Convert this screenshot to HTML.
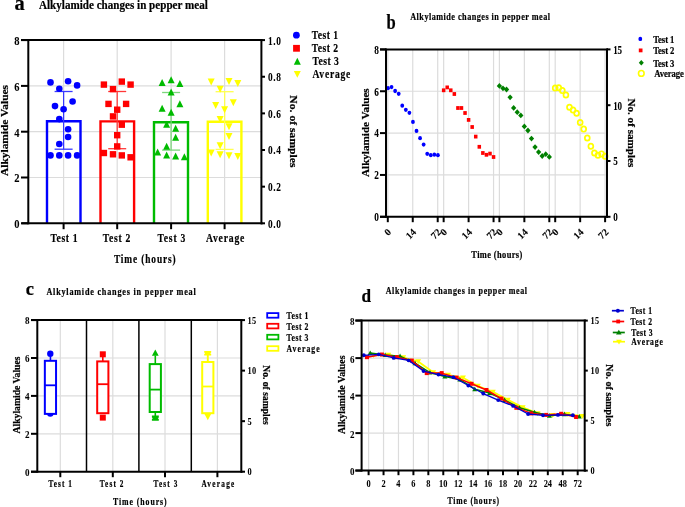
<!DOCTYPE html>
<html><head><meta charset="utf-8"><style>
html,body{margin:0;padding:0;background:#fff;overflow:hidden;width:685px;height:507px;}
svg{display:block;will-change:transform;}
text{font-family:"Liberation Serif",serif;font-weight:bold;stroke:#000;stroke-width:0.2px;}
</style></head><body>
<svg width="685" height="507" viewBox="0 0 685 507">
<rect width="685" height="507" fill="#fff"/>
<line x1="28.30" y1="177.50" x2="261.40" y2="177.50" stroke="#dcdcdc" stroke-width="1.2" />
<line x1="28.30" y1="131.70" x2="261.40" y2="131.70" stroke="#dcdcdc" stroke-width="1.2" />
<line x1="28.30" y1="85.90" x2="261.40" y2="85.90" stroke="#dcdcdc" stroke-width="1.2" />
<line x1="63.60" y1="40.10" x2="63.60" y2="223.30" stroke="#dcdcdc" stroke-width="1.2" />
<line x1="117.20" y1="40.10" x2="117.20" y2="223.30" stroke="#dcdcdc" stroke-width="1.2" />
<line x1="171.10" y1="40.10" x2="171.10" y2="223.30" stroke="#dcdcdc" stroke-width="1.2" />
<line x1="224.60" y1="40.10" x2="224.60" y2="223.30" stroke="#dcdcdc" stroke-width="1.2" />
<polyline points="47.00,223.30 47.00,121.30 80.50,121.30 80.50,223.30" fill="none" stroke="#0000ff" stroke-width="2.4"/>
<polyline points="100.50,223.30 100.50,121.40 134.10,121.40 134.10,223.30" fill="none" stroke="#ff0000" stroke-width="2.4"/>
<polyline points="154.00,223.30 154.00,122.30 188.00,122.30 188.00,223.30" fill="none" stroke="#00bb00" stroke-width="2.4"/>
<polyline points="207.80,223.30 207.80,121.80 241.40,121.80 241.40,223.30" fill="none" stroke="#ffff00" stroke-width="2.4"/>
<line x1="63.60" y1="91.50" x2="63.60" y2="149.20" stroke="#3838ff" stroke-width="1.25" />
<line x1="54.60" y1="91.50" x2="72.60" y2="91.50" stroke="#3838ff" stroke-width="1.3" />
<line x1="54.60" y1="149.20" x2="72.60" y2="149.20" stroke="#3838ff" stroke-width="1.3" />
<line x1="117.20" y1="91.50" x2="117.20" y2="148.70" stroke="#ff3838" stroke-width="1.25" />
<line x1="108.20" y1="91.50" x2="126.20" y2="91.50" stroke="#ff3838" stroke-width="1.3" />
<line x1="108.20" y1="148.70" x2="126.20" y2="148.70" stroke="#ff3838" stroke-width="1.3" />
<line x1="171.10" y1="92.50" x2="171.10" y2="150.10" stroke="#7cd67c" stroke-width="1.25" />
<line x1="162.10" y1="92.50" x2="180.10" y2="92.50" stroke="#7cd67c" stroke-width="1.3" />
<line x1="162.10" y1="150.10" x2="180.10" y2="150.10" stroke="#7cd67c" stroke-width="1.3" />
<line x1="224.60" y1="91.70" x2="224.60" y2="149.40" stroke="#ffff50" stroke-width="1.25" />
<line x1="215.60" y1="91.70" x2="233.60" y2="91.70" stroke="#ffff50" stroke-width="1.3" />
<line x1="215.60" y1="149.40" x2="233.60" y2="149.40" stroke="#ffff50" stroke-width="1.3" />
<circle cx="50.50" cy="82.40" r="3.3" fill="#0000ff"/>
<circle cx="68.10" cy="81.20" r="3.3" fill="#0000ff"/>
<circle cx="77.10" cy="85.40" r="3.3" fill="#0000ff"/>
<circle cx="59.30" cy="88.70" r="3.3" fill="#0000ff"/>
<circle cx="72.60" cy="101.50" r="3.3" fill="#0000ff"/>
<circle cx="55.00" cy="106.10" r="3.3" fill="#0000ff"/>
<circle cx="63.60" cy="109.30" r="3.3" fill="#0000ff"/>
<circle cx="59.30" cy="119.10" r="3.3" fill="#0000ff"/>
<circle cx="68.10" cy="129.20" r="3.3" fill="#0000ff"/>
<circle cx="68.10" cy="137.00" r="3.3" fill="#0000ff"/>
<circle cx="59.30" cy="144.00" r="3.3" fill="#0000ff"/>
<circle cx="50.50" cy="155.40" r="3.3" fill="#0000ff"/>
<circle cx="59.30" cy="155.40" r="3.3" fill="#0000ff"/>
<circle cx="68.10" cy="155.40" r="3.3" fill="#0000ff"/>
<circle cx="77.10" cy="155.40" r="3.3" fill="#0000ff"/>
<rect x="100.70" y="81.40" width="6.4" height="6.4" fill="#ff0000"/>
<rect x="118.60" y="78.40" width="6.4" height="6.4" fill="#ff0000"/>
<rect x="127.40" y="81.40" width="6.4" height="6.4" fill="#ff0000"/>
<rect x="109.80" y="85.90" width="6.4" height="6.4" fill="#ff0000"/>
<rect x="105.30" y="100.70" width="6.4" height="6.4" fill="#ff0000"/>
<rect x="122.90" y="100.70" width="6.4" height="6.4" fill="#ff0000"/>
<rect x="114.00" y="106.50" width="6.4" height="6.4" fill="#ff0000"/>
<rect x="109.80" y="113.20" width="6.4" height="6.4" fill="#ff0000"/>
<rect x="118.60" y="121.50" width="6.4" height="6.4" fill="#ff0000"/>
<rect x="114.00" y="132.00" width="6.4" height="6.4" fill="#ff0000"/>
<rect x="114.00" y="143.20" width="6.4" height="6.4" fill="#ff0000"/>
<rect x="100.70" y="149.80" width="6.4" height="6.4" fill="#ff0000"/>
<rect x="109.80" y="151.10" width="6.4" height="6.4" fill="#ff0000"/>
<rect x="118.60" y="152.20" width="6.4" height="6.4" fill="#ff0000"/>
<rect x="127.40" y="154.10" width="6.4" height="6.4" fill="#ff0000"/>
<polygon points="162.10,79.10 165.60,86.10 158.60,86.10" fill="#00bb00"/>
<polygon points="171.10,76.30 174.60,83.30 167.60,83.30" fill="#00bb00"/>
<polygon points="179.90,80.00 183.40,87.00 176.40,87.00" fill="#00bb00"/>
<polygon points="171.10,88.50 174.60,95.50 167.60,95.50" fill="#00bb00"/>
<polygon points="179.90,100.30 183.40,107.30 176.40,107.30" fill="#00bb00"/>
<polygon points="162.10,104.80 165.60,111.80 158.60,111.80" fill="#00bb00"/>
<polygon points="171.10,108.70 174.60,115.70 167.60,115.70" fill="#00bb00"/>
<polygon points="166.60,120.70 170.10,127.70 163.10,127.70" fill="#00bb00"/>
<polygon points="175.60,124.80 179.10,131.80 172.10,131.80" fill="#00bb00"/>
<polygon points="175.60,133.80 179.10,140.80 172.10,140.80" fill="#00bb00"/>
<polygon points="166.60,142.80 170.10,149.80 163.10,149.80" fill="#00bb00"/>
<polygon points="157.60,148.40 161.10,155.40 154.10,155.40" fill="#00bb00"/>
<polygon points="166.60,151.60 170.10,158.60 163.10,158.60" fill="#00bb00"/>
<polygon points="175.60,152.50 179.10,159.50 172.10,159.50" fill="#00bb00"/>
<polygon points="184.40,153.30 187.90,160.30 180.90,160.30" fill="#00bb00"/>
<polygon points="207.70,78.60 214.70,78.60 211.20,85.60" fill="#ffff00"/>
<polygon points="225.50,77.90 232.50,77.90 229.00,84.90" fill="#ffff00"/>
<polygon points="234.30,80.10 241.30,80.10 237.80,87.10" fill="#ffff00"/>
<polygon points="216.60,85.70 223.60,85.70 220.10,92.70" fill="#ffff00"/>
<polygon points="229.80,99.20 236.80,99.20 233.30,106.20" fill="#ffff00"/>
<polygon points="212.20,102.00 219.20,102.00 215.70,109.00" fill="#ffff00"/>
<polygon points="221.10,106.30 228.10,106.30 224.60,113.30" fill="#ffff00"/>
<polygon points="216.60,116.10 223.60,116.10 220.10,123.10" fill="#ffff00"/>
<polygon points="225.50,123.20 232.50,123.20 229.00,130.20" fill="#ffff00"/>
<polygon points="225.50,132.90 232.50,132.90 229.00,139.90" fill="#ffff00"/>
<polygon points="216.60,142.30 223.60,142.30 220.10,149.30" fill="#ffff00"/>
<polygon points="207.70,149.40 214.70,149.40 211.20,156.40" fill="#ffff00"/>
<polygon points="216.60,151.30 223.60,151.30 220.10,158.30" fill="#ffff00"/>
<polygon points="225.50,152.20 232.50,152.20 229.00,159.20" fill="#ffff00"/>
<polygon points="234.30,153.10 241.30,153.10 237.80,160.10" fill="#ffff00"/>
<line x1="21.00" y1="40.10" x2="262.40" y2="40.10" stroke="#000" stroke-width="2" />
<line x1="21.50" y1="223.30" x2="262.40" y2="223.30" stroke="#000" stroke-width="2" />
<line x1="28.30" y1="39.10" x2="28.30" y2="224.30" stroke="#000" stroke-width="2" />
<line x1="261.40" y1="39.10" x2="261.40" y2="224.30" stroke="#000" stroke-width="2" />
<line x1="21.00" y1="223.30" x2="28.30" y2="223.30" stroke="#000" stroke-width="2" />
<text x="19.60" y="228.30" font-size="12.0" text-anchor="end" fill="#000" transform-origin="19.6 0" transform="scale(0.88,1)" style="stroke-width:0.05px">0</text>
<line x1="21.00" y1="177.50" x2="28.30" y2="177.50" stroke="#000" stroke-width="2" />
<text x="19.60" y="182.50" font-size="12.0" text-anchor="end" fill="#000" transform-origin="19.6 0" transform="scale(0.88,1)" style="stroke-width:0.05px">2</text>
<line x1="21.00" y1="131.70" x2="28.30" y2="131.70" stroke="#000" stroke-width="2" />
<text x="19.60" y="136.70" font-size="12.0" text-anchor="end" fill="#000" transform-origin="19.6 0" transform="scale(0.88,1)" style="stroke-width:0.05px">4</text>
<line x1="21.00" y1="85.90" x2="28.30" y2="85.90" stroke="#000" stroke-width="2" />
<text x="19.60" y="90.90" font-size="12.0" text-anchor="end" fill="#000" transform-origin="19.6 0" transform="scale(0.88,1)" style="stroke-width:0.05px">6</text>
<line x1="21.00" y1="40.10" x2="28.30" y2="40.10" stroke="#000" stroke-width="2" />
<text x="19.60" y="45.10" font-size="12.0" text-anchor="end" fill="#000" transform-origin="19.6 0" transform="scale(0.88,1)" style="stroke-width:0.05px">8</text>
<line x1="261.40" y1="223.30" x2="265.00" y2="223.30" stroke="#000" stroke-width="2" />
<text transform="translate(267.90,227.70) scale(0.78,1)" font-size="12.0" textLength="16.67" lengthAdjust="spacing" fill="#000"  style="stroke-width:0.05px">0.0</text>
<line x1="261.40" y1="186.66" x2="265.00" y2="186.66" stroke="#000" stroke-width="2" />
<text transform="translate(267.90,191.06) scale(0.78,1)" font-size="12.0" textLength="16.67" lengthAdjust="spacing" fill="#000"  style="stroke-width:0.05px">0.2</text>
<line x1="261.40" y1="150.02" x2="265.00" y2="150.02" stroke="#000" stroke-width="2" />
<text transform="translate(267.90,154.42) scale(0.78,1)" font-size="12.0" textLength="16.67" lengthAdjust="spacing" fill="#000"  style="stroke-width:0.05px">0.4</text>
<line x1="261.40" y1="113.38" x2="265.00" y2="113.38" stroke="#000" stroke-width="2" />
<text transform="translate(267.90,117.78) scale(0.78,1)" font-size="12.0" textLength="16.67" lengthAdjust="spacing" fill="#000"  style="stroke-width:0.05px">0.6</text>
<line x1="261.40" y1="76.74" x2="265.00" y2="76.74" stroke="#000" stroke-width="2" />
<text transform="translate(267.90,81.14) scale(0.78,1)" font-size="12.0" textLength="16.67" lengthAdjust="spacing" fill="#000"  style="stroke-width:0.05px">0.8</text>
<line x1="261.40" y1="40.10" x2="265.00" y2="40.10" stroke="#000" stroke-width="2" />
<text transform="translate(267.90,44.50) scale(0.78,1)" font-size="12.0" textLength="16.67" lengthAdjust="spacing" fill="#000"  style="stroke-width:0.05px">1.0</text>
<line x1="63.60" y1="223.30" x2="63.60" y2="229.20" stroke="#000" stroke-width="2" />
<line x1="117.20" y1="223.30" x2="117.20" y2="229.20" stroke="#000" stroke-width="2" />
<line x1="171.10" y1="223.30" x2="171.10" y2="229.20" stroke="#000" stroke-width="2" />
<line x1="224.60" y1="223.30" x2="224.60" y2="229.20" stroke="#000" stroke-width="2" />
<text transform="translate(50.40,241.70) scale(0.78,1)" font-size="12.4" textLength="34.87" lengthAdjust="spacing" fill="#000" >Test 1</text>
<text transform="translate(102.70,241.70) scale(0.78,1)" font-size="12.4" textLength="35.38" lengthAdjust="spacing" fill="#000" >Test 2</text>
<text transform="translate(157.50,241.70) scale(0.78,1)" font-size="12.4" textLength="35.77" lengthAdjust="spacing" fill="#000" >Test 3</text>
<text transform="translate(205.90,241.70) scale(0.78,1)" font-size="12.4" textLength="49.36" lengthAdjust="spacing" fill="#000" >Average</text>
<text transform="translate(113.90,263.10) scale(0.78,1)" font-size="12.0" textLength="79.23" lengthAdjust="spacing" fill="#000" >Time (hours)</text>
<text x="14.50" y="10.30" font-size="21" textLength="10.20" lengthAdjust="spacingAndGlyphs" fill="#000" >a</text>
<text transform="translate(39.00,8.90) scale(0.94,1)" font-size="11.8" textLength="179.57" lengthAdjust="spacing" fill="#000" >Alkylamide changes in pepper meal</text>
<text transform="translate(8.00,130.50) rotate(-90)" font-size="10.8" text-anchor="middle" textLength="91.00" lengthAdjust="spacingAndGlyphs" fill="#000">Alkylamide Values</text>
<text transform="translate(289.60,131.45) rotate(90)" font-size="10.8" text-anchor="middle" textLength="72.20" lengthAdjust="spacingAndGlyphs" fill="#000">No. of samples</text>
<circle cx="296.40" cy="35.20" r="3.4" fill="#0000ff"/>
<rect x="293.10" y="44.90" width="6.8" height="6.8" fill="#ff0000"/>
<polygon points="297.30,57.75 300.80,64.65 293.80,64.65" fill="#00bb00"/>
<polygon points="293.80,71.00 300.80,71.00 297.30,77.80" fill="#ffff00"/>
<text transform="translate(311.70,38.70) scale(0.78,1)" font-size="12.3" textLength="33.85" lengthAdjust="spacing" fill="#000" >Test 1</text>
<text transform="translate(311.70,51.50) scale(0.78,1)" font-size="12.3" textLength="33.85" lengthAdjust="spacing" fill="#000" >Test 2</text>
<text transform="translate(312.40,64.80) scale(0.78,1)" font-size="12.3" textLength="33.85" lengthAdjust="spacing" fill="#000" >Test 3</text>
<text transform="translate(312.40,78.20) scale(0.78,1)" font-size="12.3" textLength="48.59" lengthAdjust="spacing" fill="#000" >Average</text>
<line x1="386.00" y1="174.95" x2="607.00" y2="174.95" stroke="#dcdcdc" stroke-width="1.2" />
<line x1="386.00" y1="133.10" x2="607.00" y2="133.10" stroke="#dcdcdc" stroke-width="1.2" />
<line x1="386.00" y1="91.25" x2="607.00" y2="91.25" stroke="#dcdcdc" stroke-width="1.2" />
<line x1="387.80" y1="49.40" x2="387.80" y2="216.80" stroke="#dcdcdc" stroke-width="1.2" />
<line x1="412.75" y1="49.40" x2="412.75" y2="216.80" stroke="#dcdcdc" stroke-width="1.2" />
<line x1="437.71" y1="49.40" x2="437.71" y2="216.80" stroke="#dcdcdc" stroke-width="1.2" />
<line x1="443.65" y1="49.40" x2="443.65" y2="216.80" stroke="#dcdcdc" stroke-width="1.2" />
<line x1="468.60" y1="49.40" x2="468.60" y2="216.80" stroke="#dcdcdc" stroke-width="1.2" />
<line x1="493.56" y1="49.40" x2="493.56" y2="216.80" stroke="#dcdcdc" stroke-width="1.2" />
<line x1="499.40" y1="49.40" x2="499.40" y2="216.80" stroke="#dcdcdc" stroke-width="1.2" />
<line x1="524.36" y1="49.40" x2="524.36" y2="216.80" stroke="#dcdcdc" stroke-width="1.2" />
<line x1="549.31" y1="49.40" x2="549.31" y2="216.80" stroke="#dcdcdc" stroke-width="1.2" />
<line x1="555.20" y1="49.40" x2="555.20" y2="216.80" stroke="#dcdcdc" stroke-width="1.2" />
<line x1="580.16" y1="49.40" x2="580.16" y2="216.80" stroke="#dcdcdc" stroke-width="1.2" />
<line x1="605.11" y1="49.40" x2="605.11" y2="216.80" stroke="#dcdcdc" stroke-width="1.2" />
<ellipse cx="388.00" cy="88.20" rx="1.9" ry="2.15" fill="#0000ff"/>
<ellipse cx="391.56" cy="87.10" rx="1.9" ry="2.15" fill="#0000ff"/>
<ellipse cx="395.13" cy="91.00" rx="1.9" ry="2.15" fill="#0000ff"/>
<ellipse cx="398.69" cy="93.80" rx="1.9" ry="2.15" fill="#0000ff"/>
<ellipse cx="402.26" cy="105.70" rx="1.9" ry="2.15" fill="#0000ff"/>
<ellipse cx="405.82" cy="109.80" rx="1.9" ry="2.15" fill="#0000ff"/>
<ellipse cx="409.39" cy="112.80" rx="1.9" ry="2.15" fill="#0000ff"/>
<ellipse cx="412.95" cy="121.90" rx="1.9" ry="2.15" fill="#0000ff"/>
<ellipse cx="416.52" cy="130.90" rx="1.9" ry="2.15" fill="#0000ff"/>
<ellipse cx="420.08" cy="138.20" rx="1.9" ry="2.15" fill="#0000ff"/>
<ellipse cx="423.65" cy="144.60" rx="1.9" ry="2.15" fill="#0000ff"/>
<ellipse cx="427.21" cy="153.80" rx="1.9" ry="2.15" fill="#0000ff"/>
<ellipse cx="430.78" cy="155.20" rx="1.9" ry="2.15" fill="#0000ff"/>
<ellipse cx="434.34" cy="154.70" rx="1.9" ry="2.15" fill="#0000ff"/>
<ellipse cx="437.91" cy="155.20" rx="1.9" ry="2.15" fill="#0000ff"/>
<rect x="441.90" y="88.40" width="3.5" height="3.8" fill="#ff0000"/>
<rect x="445.46" y="85.50" width="3.5" height="3.8" fill="#ff0000"/>
<rect x="449.03" y="88.40" width="3.5" height="3.8" fill="#ff0000"/>
<rect x="452.59" y="92.10" width="3.5" height="3.8" fill="#ff0000"/>
<rect x="456.16" y="106.10" width="3.5" height="3.8" fill="#ff0000"/>
<rect x="459.72" y="106.10" width="3.5" height="3.8" fill="#ff0000"/>
<rect x="463.29" y="111.10" width="3.5" height="3.8" fill="#ff0000"/>
<rect x="466.85" y="118.00" width="3.5" height="3.8" fill="#ff0000"/>
<rect x="470.42" y="125.10" width="3.5" height="3.8" fill="#ff0000"/>
<rect x="473.98" y="134.70" width="3.5" height="3.8" fill="#ff0000"/>
<rect x="477.55" y="144.90" width="3.5" height="3.8" fill="#ff0000"/>
<rect x="481.11" y="151.10" width="3.5" height="3.8" fill="#ff0000"/>
<rect x="484.68" y="152.90" width="3.5" height="3.8" fill="#ff0000"/>
<rect x="488.25" y="151.70" width="3.5" height="3.8" fill="#ff0000"/>
<rect x="491.81" y="155.10" width="3.5" height="3.8" fill="#ff0000"/>
<polygon points="499.40,83.00 502.05,85.90 499.40,88.80 496.75,85.90" fill="#008000"/>
<polygon points="502.96,85.40 505.61,88.30 502.96,91.20 500.31,88.30" fill="#008000"/>
<polygon points="506.53,86.60 509.18,89.50 506.53,92.40 503.88,89.50" fill="#008000"/>
<polygon points="510.09,94.40 512.75,97.30 510.09,100.20 507.44,97.30" fill="#008000"/>
<polygon points="513.66,105.00 516.31,107.90 513.66,110.80 511.01,107.90" fill="#008000"/>
<polygon points="517.23,109.30 519.88,112.20 517.23,115.10 514.58,112.20" fill="#008000"/>
<polygon points="520.79,112.50 523.44,115.40 520.79,118.30 518.14,115.40" fill="#008000"/>
<polygon points="524.36,123.50 527.00,126.40 524.36,129.30 521.71,126.40" fill="#008000"/>
<polygon points="527.92,127.60 530.57,130.50 527.92,133.40 525.27,130.50" fill="#008000"/>
<polygon points="531.49,135.70 534.13,138.60 531.49,141.50 528.84,138.60" fill="#008000"/>
<polygon points="535.05,144.20 537.70,147.10 535.05,150.00 532.40,147.10" fill="#008000"/>
<polygon points="538.62,149.20 541.26,152.10 538.62,155.00 535.97,152.10" fill="#008000"/>
<polygon points="542.18,153.10 544.83,156.00 542.18,158.90 539.53,156.00" fill="#008000"/>
<polygon points="545.75,151.30 548.39,154.20 545.75,157.10 543.10,154.20" fill="#008000"/>
<polygon points="549.31,154.00 551.96,156.90 549.31,159.80 546.66,156.90" fill="#008000"/>
<ellipse cx="555.20" cy="88.10" rx="2.45" ry="2.65" fill="none" stroke="#ffff00" stroke-width="1.7"/>
<ellipse cx="558.77" cy="87.80" rx="2.45" ry="2.65" fill="none" stroke="#ffff00" stroke-width="1.7"/>
<ellipse cx="562.33" cy="90.60" rx="2.45" ry="2.65" fill="none" stroke="#ffff00" stroke-width="1.7"/>
<ellipse cx="565.90" cy="95.00" rx="2.45" ry="2.65" fill="none" stroke="#ffff00" stroke-width="1.7"/>
<ellipse cx="569.46" cy="107.30" rx="2.45" ry="2.65" fill="none" stroke="#ffff00" stroke-width="1.7"/>
<ellipse cx="573.03" cy="110.10" rx="2.45" ry="2.65" fill="none" stroke="#ffff00" stroke-width="1.7"/>
<ellipse cx="576.59" cy="113.30" rx="2.45" ry="2.65" fill="none" stroke="#ffff00" stroke-width="1.7"/>
<ellipse cx="580.16" cy="122.50" rx="2.45" ry="2.65" fill="none" stroke="#ffff00" stroke-width="1.7"/>
<ellipse cx="583.72" cy="129.10" rx="2.45" ry="2.65" fill="none" stroke="#ffff00" stroke-width="1.7"/>
<ellipse cx="587.29" cy="138.00" rx="2.45" ry="2.65" fill="none" stroke="#ffff00" stroke-width="1.7"/>
<ellipse cx="590.85" cy="146.30" rx="2.45" ry="2.65" fill="none" stroke="#ffff00" stroke-width="1.7"/>
<ellipse cx="594.42" cy="153.00" rx="2.45" ry="2.65" fill="none" stroke="#ffff00" stroke-width="1.7"/>
<ellipse cx="597.98" cy="155.20" rx="2.45" ry="2.65" fill="none" stroke="#ffff00" stroke-width="1.7"/>
<ellipse cx="601.55" cy="153.90" rx="2.45" ry="2.65" fill="none" stroke="#ffff00" stroke-width="1.7"/>
<ellipse cx="605.11" cy="156.20" rx="2.45" ry="2.65" fill="none" stroke="#ffff00" stroke-width="1.7"/>
<line x1="380.00" y1="49.40" x2="608.00" y2="49.40" stroke="#000" stroke-width="2" />
<line x1="380.00" y1="216.80" x2="608.00" y2="216.80" stroke="#000" stroke-width="2" />
<line x1="386.00" y1="48.40" x2="386.00" y2="217.80" stroke="#000" stroke-width="2" />
<line x1="607.00" y1="48.40" x2="607.00" y2="217.80" stroke="#000" stroke-width="2" />
<line x1="380.00" y1="216.80" x2="386.00" y2="216.80" stroke="#000" stroke-width="2" />
<text x="379.00" y="221.10" font-size="11.6" text-anchor="end" fill="#000" transform-origin="379.0 0" transform="scale(0.8,1)" style="stroke-width:0.05px">0</text>
<line x1="380.00" y1="174.95" x2="386.00" y2="174.95" stroke="#000" stroke-width="2" />
<text x="379.00" y="179.25" font-size="11.6" text-anchor="end" fill="#000" transform-origin="379.0 0" transform="scale(0.8,1)" style="stroke-width:0.05px">2</text>
<line x1="380.00" y1="133.10" x2="386.00" y2="133.10" stroke="#000" stroke-width="2" />
<text x="379.00" y="137.40" font-size="11.6" text-anchor="end" fill="#000" transform-origin="379.0 0" transform="scale(0.8,1)" style="stroke-width:0.05px">4</text>
<line x1="380.00" y1="91.25" x2="386.00" y2="91.25" stroke="#000" stroke-width="2" />
<text x="379.00" y="95.55" font-size="11.6" text-anchor="end" fill="#000" transform-origin="379.0 0" transform="scale(0.8,1)" style="stroke-width:0.05px">6</text>
<line x1="380.00" y1="49.40" x2="386.00" y2="49.40" stroke="#000" stroke-width="2" />
<text x="379.00" y="53.70" font-size="11.6" text-anchor="end" fill="#000" transform-origin="379.0 0" transform="scale(0.8,1)" style="stroke-width:0.05px">8</text>
<line x1="607.00" y1="216.80" x2="610.50" y2="216.80" stroke="#000" stroke-width="2" />
<text transform="translate(613.30,221.10) scale(0.78,1)" font-size="11.6" textLength="5.26" lengthAdjust="spacing" fill="#000"  style="stroke-width:0.05px">0</text>
<line x1="607.00" y1="161.00" x2="610.50" y2="161.00" stroke="#000" stroke-width="2" />
<text transform="translate(613.30,165.30) scale(0.78,1)" font-size="11.6" textLength="5.26" lengthAdjust="spacing" fill="#000"  style="stroke-width:0.05px">5</text>
<line x1="607.00" y1="105.20" x2="610.50" y2="105.20" stroke="#000" stroke-width="2" />
<text transform="translate(613.30,109.50) scale(0.78,1)" font-size="11.6" textLength="11.03" lengthAdjust="spacing" fill="#000"  style="stroke-width:0.05px">10</text>
<line x1="607.00" y1="49.40" x2="610.50" y2="49.40" stroke="#000" stroke-width="2" />
<text transform="translate(613.30,53.70) scale(0.78,1)" font-size="11.6" textLength="11.03" lengthAdjust="spacing" fill="#000"  style="stroke-width:0.05px">15</text>
<line x1="387.80" y1="216.80" x2="387.80" y2="222.20" stroke="#000" stroke-width="2" />
<text transform="translate(389.40,230.2) rotate(-45)" font-size="10" text-anchor="end" dominant-baseline="central" fill="#000" style="stroke-width:0.1px">0</text>
<line x1="412.75" y1="216.80" x2="412.75" y2="222.20" stroke="#000" stroke-width="2" />
<text transform="translate(414.36,230.2) rotate(-45)" font-size="10" text-anchor="end" dominant-baseline="central" fill="#000" style="stroke-width:0.1px">14</text>
<line x1="437.71" y1="216.80" x2="437.71" y2="222.20" stroke="#000" stroke-width="2" />
<text transform="translate(439.31,230.2) rotate(-45)" font-size="10" text-anchor="end" dominant-baseline="central" fill="#000" style="stroke-width:0.1px">72</text>
<line x1="443.65" y1="216.80" x2="443.65" y2="222.20" stroke="#000" stroke-width="2" />
<text transform="translate(445.25,230.2) rotate(-45)" font-size="10" text-anchor="end" dominant-baseline="central" fill="#000" style="stroke-width:0.1px">0</text>
<line x1="468.60" y1="216.80" x2="468.60" y2="222.20" stroke="#000" stroke-width="2" />
<text transform="translate(470.20,230.2) rotate(-45)" font-size="10" text-anchor="end" dominant-baseline="central" fill="#000" style="stroke-width:0.1px">14</text>
<line x1="493.56" y1="216.80" x2="493.56" y2="222.20" stroke="#000" stroke-width="2" />
<text transform="translate(495.16,230.2) rotate(-45)" font-size="10" text-anchor="end" dominant-baseline="central" fill="#000" style="stroke-width:0.1px">72</text>
<line x1="499.40" y1="216.80" x2="499.40" y2="222.20" stroke="#000" stroke-width="2" />
<text transform="translate(501.00,230.2) rotate(-45)" font-size="10" text-anchor="end" dominant-baseline="central" fill="#000" style="stroke-width:0.1px">0</text>
<line x1="524.36" y1="216.80" x2="524.36" y2="222.20" stroke="#000" stroke-width="2" />
<text transform="translate(525.96,230.2) rotate(-45)" font-size="10" text-anchor="end" dominant-baseline="central" fill="#000" style="stroke-width:0.1px">14</text>
<line x1="549.31" y1="216.80" x2="549.31" y2="222.20" stroke="#000" stroke-width="2" />
<text transform="translate(550.91,230.2) rotate(-45)" font-size="10" text-anchor="end" dominant-baseline="central" fill="#000" style="stroke-width:0.1px">72</text>
<line x1="555.20" y1="216.80" x2="555.20" y2="222.20" stroke="#000" stroke-width="2" />
<text transform="translate(556.80,230.2) rotate(-45)" font-size="10" text-anchor="end" dominant-baseline="central" fill="#000" style="stroke-width:0.1px">0</text>
<line x1="580.16" y1="216.80" x2="580.16" y2="222.20" stroke="#000" stroke-width="2" />
<text transform="translate(581.76,230.2) rotate(-45)" font-size="10" text-anchor="end" dominant-baseline="central" fill="#000" style="stroke-width:0.1px">14</text>
<line x1="605.11" y1="216.80" x2="605.11" y2="222.20" stroke="#000" stroke-width="2" />
<text transform="translate(606.71,230.2) rotate(-45)" font-size="10" text-anchor="end" dominant-baseline="central" fill="#000" style="stroke-width:0.1px">72</text>
<text transform="translate(471.30,258.20) scale(0.78,1)" font-size="10.8" textLength="65.38" lengthAdjust="spacing" fill="#000" >Time (hours)</text>
<text x="386.40" y="28.60" font-size="20.5" textLength="9.20" lengthAdjust="spacingAndGlyphs" fill="#000" >b</text>
<text transform="translate(410.20,20.10) scale(0.72,1)" font-size="11.4" textLength="194.17" lengthAdjust="spacing" fill="#000" >Alkylamide changes in pepper meal</text>
<text transform="translate(369.30,132.65) rotate(-90)" font-size="10.8" text-anchor="middle" textLength="88.70" lengthAdjust="spacingAndGlyphs" fill="#000">Alkylamide Values</text>
<text transform="translate(628.40,132.90) rotate(90)" font-size="10.8" text-anchor="middle" textLength="69.00" lengthAdjust="spacingAndGlyphs" fill="#000">No. of samples</text>
<ellipse cx="640.3" cy="38.9" rx="1.9" ry="2.2" fill="#0000ff"/>
<rect x="638.8" y="48.5" width="3.7" height="3.8" fill="#ff0000"/>
<polygon points="641.30,60.00 643.80,62.80 641.30,65.60 638.80,62.80" fill="#008000"/>
<ellipse cx="641.3" cy="73.4" rx="2.8" ry="2.9" fill="none" stroke="#ffff00" stroke-width="1.6"/>
<text transform="translate(653.20,42.70) scale(0.78,1)" font-size="11.1" textLength="27.18" lengthAdjust="spacing" fill="#000" >Test 1</text>
<text transform="translate(653.20,54.10) scale(0.78,1)" font-size="11.1" textLength="27.18" lengthAdjust="spacing" fill="#000" >Test 2</text>
<text transform="translate(653.20,66.50) scale(0.78,1)" font-size="11.1" textLength="27.18" lengthAdjust="spacing" fill="#000" >Test 3</text>
<text transform="translate(654.30,77.20) scale(0.78,1)" font-size="11.1" textLength="37.82" lengthAdjust="spacing" fill="#000" >Average</text>
<line x1="37.30" y1="433.80" x2="241.30" y2="433.80" stroke="#dcdcdc" stroke-width="1.2" />
<line x1="37.30" y1="395.90" x2="241.30" y2="395.90" stroke="#dcdcdc" stroke-width="1.2" />
<line x1="37.30" y1="358.00" x2="241.30" y2="358.00" stroke="#dcdcdc" stroke-width="1.2" />
<line x1="60.30" y1="320.10" x2="60.30" y2="471.70" stroke="#dcdcdc" stroke-width="1.2" />
<line x1="112.80" y1="320.10" x2="112.80" y2="471.70" stroke="#dcdcdc" stroke-width="1.2" />
<line x1="165.00" y1="320.10" x2="165.00" y2="471.70" stroke="#dcdcdc" stroke-width="1.2" />
<line x1="217.40" y1="320.10" x2="217.40" y2="471.70" stroke="#dcdcdc" stroke-width="1.2" />
<line x1="86.50" y1="320.10" x2="86.50" y2="471.70" stroke="#000" stroke-width="1.5" />
<line x1="138.90" y1="320.10" x2="138.90" y2="471.70" stroke="#000" stroke-width="1.5" />
<line x1="191.30" y1="320.10" x2="191.30" y2="471.70" stroke="#000" stroke-width="1.5" />
<circle cx="50.30" cy="413.60" r="3.2" fill="#0000ff"/>
<circle cx="50.30" cy="353.70" r="3.2" fill="#0000ff"/>
<line x1="50.45" y1="356.50" x2="50.45" y2="360.80" stroke="#0000ff" stroke-width="1.6" />
<rect x="99.80" y="351.30" width="6.0" height="6.0" fill="#ff0000"/>
<rect x="99.80" y="414.60" width="6.0" height="6.0" fill="#ff0000"/>
<line x1="102.80" y1="357.00" x2="102.80" y2="361.00" stroke="#ff0000" stroke-width="1.6" />
<polygon points="155.30,349.60 158.70,355.80 151.90,355.80" fill="#00bb00"/>
<line x1="155.30" y1="355.50" x2="155.30" y2="364.00" stroke="#00bb00" stroke-width="1.6" />
<line x1="155.30" y1="411.50" x2="155.30" y2="416.00" stroke="#00bb00" stroke-width="1.6" />
<polygon points="151.9,415.6 158.8,415.6 158.8,417.40000000000003 157.8,418.20000000000005 158.8,419.00000000000006 158.8,420.8 151.9,420.8 151.9,419.00000000000006 152.9,418.20000000000005 151.9,417.40000000000003" fill="#00bb00"/>
<polygon points="204.2,350.9 211.2,350.9 211.2,352.45 210.2,353.25 211.2,354.05 211.2,355.6 204.2,355.6 204.2,354.05 205.2,353.25 204.2,352.45" fill="#ffff00"/>
<line x1="207.80" y1="355.00" x2="207.80" y2="362.00" stroke="#ffff00" stroke-width="1.9" />
<polygon points="204.50,414.00 211.10,414.00 207.80,420.20" fill="#ffff00"/>
<rect x="44.85" y="360.80" width="11.20" height="53.10" fill="#fff" stroke="#0000ff" stroke-width="2"/>
<line x1="44.85" y1="385.30" x2="56.05" y2="385.30" stroke="#0000ff" stroke-width="1.8" />
<rect x="97.20" y="361.40" width="11.20" height="51.80" fill="#fff" stroke="#ff0000" stroke-width="2"/>
<line x1="97.20" y1="384.20" x2="108.40" y2="384.20" stroke="#ff0000" stroke-width="1.8" />
<rect x="149.70" y="364.10" width="11.20" height="47.90" fill="#fff" stroke="#00bb00" stroke-width="2"/>
<line x1="149.70" y1="389.60" x2="160.90" y2="389.60" stroke="#00bb00" stroke-width="1.8" />
<rect x="202.20" y="362.00" width="11.20" height="51.20" fill="#fff" stroke="#ffff00" stroke-width="2"/>
<line x1="202.20" y1="386.50" x2="213.40" y2="386.50" stroke="#ffff00" stroke-width="1.8" />
<line x1="31.00" y1="320.10" x2="242.30" y2="320.10" stroke="#000" stroke-width="2" />
<line x1="31.00" y1="471.70" x2="242.30" y2="471.70" stroke="#000" stroke-width="2" />
<line x1="37.30" y1="319.10" x2="37.30" y2="472.70" stroke="#000" stroke-width="2" />
<line x1="241.30" y1="319.10" x2="241.30" y2="472.70" stroke="#000" stroke-width="2" />
<line x1="31.00" y1="471.70" x2="37.30" y2="471.70" stroke="#000" stroke-width="2" />
<text x="29.50" y="475.70" font-size="10.7" text-anchor="end" fill="#000" transform-origin="29.5 0" transform="scale(0.85,1)" style="stroke-width:0.05px">0</text>
<line x1="31.00" y1="433.80" x2="37.30" y2="433.80" stroke="#000" stroke-width="2" />
<text x="29.50" y="437.80" font-size="10.7" text-anchor="end" fill="#000" transform-origin="29.5 0" transform="scale(0.85,1)" style="stroke-width:0.05px">2</text>
<line x1="31.00" y1="395.90" x2="37.30" y2="395.90" stroke="#000" stroke-width="2" />
<text x="29.50" y="399.90" font-size="10.7" text-anchor="end" fill="#000" transform-origin="29.5 0" transform="scale(0.85,1)" style="stroke-width:0.05px">4</text>
<line x1="31.00" y1="358.00" x2="37.30" y2="358.00" stroke="#000" stroke-width="2" />
<text x="29.50" y="362.00" font-size="10.7" text-anchor="end" fill="#000" transform-origin="29.5 0" transform="scale(0.85,1)" style="stroke-width:0.05px">6</text>
<line x1="31.00" y1="320.10" x2="37.30" y2="320.10" stroke="#000" stroke-width="2" />
<text x="29.50" y="324.10" font-size="10.7" text-anchor="end" fill="#000" transform-origin="29.5 0" transform="scale(0.85,1)" style="stroke-width:0.05px">8</text>
<line x1="241.30" y1="471.70" x2="245.00" y2="471.70" stroke="#000" stroke-width="2" />
<text transform="translate(247.40,475.30) scale(0.78,1)" font-size="10.7" textLength="5.38" lengthAdjust="spacing" fill="#000"  style="stroke-width:0.05px">0</text>
<line x1="241.30" y1="421.17" x2="245.00" y2="421.17" stroke="#000" stroke-width="2" />
<text transform="translate(247.40,424.77) scale(0.78,1)" font-size="10.7" textLength="5.38" lengthAdjust="spacing" fill="#000"  style="stroke-width:0.05px">5</text>
<line x1="241.30" y1="370.63" x2="245.00" y2="370.63" stroke="#000" stroke-width="2" />
<text transform="translate(247.40,374.23) scale(0.78,1)" font-size="10.7" textLength="11.15" lengthAdjust="spacing" fill="#000"  style="stroke-width:0.05px">10</text>
<line x1="241.30" y1="320.10" x2="245.00" y2="320.10" stroke="#000" stroke-width="2" />
<text transform="translate(247.40,323.70) scale(0.78,1)" font-size="10.7" textLength="11.15" lengthAdjust="spacing" fill="#000"  style="stroke-width:0.05px">15</text>
<line x1="60.30" y1="471.70" x2="60.30" y2="477.20" stroke="#000" stroke-width="2" />
<line x1="112.80" y1="471.70" x2="112.80" y2="477.20" stroke="#000" stroke-width="2" />
<line x1="165.00" y1="471.70" x2="165.00" y2="477.20" stroke="#000" stroke-width="2" />
<line x1="217.40" y1="471.70" x2="217.40" y2="477.20" stroke="#000" stroke-width="2" />
<text transform="translate(48.50,487.20) scale(0.78,1)" font-size="9.3" textLength="30.00" lengthAdjust="spacing" fill="#000" >Test 1</text>
<text transform="translate(99.80,487.20) scale(0.78,1)" font-size="9.3" textLength="30.38" lengthAdjust="spacing" fill="#000" >Test 2</text>
<text transform="translate(153.60,487.20) scale(0.78,1)" font-size="9.3" textLength="30.51" lengthAdjust="spacing" fill="#000" >Test 3</text>
<text transform="translate(201.40,487.20) scale(0.78,1)" font-size="9.3" textLength="42.18" lengthAdjust="spacing" fill="#000" >Average</text>
<text transform="translate(113.00,505.00) scale(0.78,1)" font-size="10" textLength="68.72" lengthAdjust="spacing" fill="#000" >Time (hours)</text>
<text x="25.80" y="294.80" font-size="19" textLength="8.20" lengthAdjust="spacingAndGlyphs" fill="#000" >c</text>
<text transform="translate(46.40,294.50) scale(0.82,1)" font-size="10" textLength="182.07" lengthAdjust="spacing" fill="#000" >Alkylamide changes in pepper meal</text>
<text transform="translate(19.50,394.95) rotate(-90)" font-size="9.6" text-anchor="middle" textLength="77.00" lengthAdjust="spacingAndGlyphs" fill="#000">Alkylamide Values</text>
<text transform="translate(263.40,395.00) rotate(90)" font-size="9.6" text-anchor="middle" textLength="59.60" lengthAdjust="spacingAndGlyphs" fill="#000">No. of samples</text>
<rect x="267.20" y="313.10" width="11.20" height="4.60" fill="none" stroke="#0000ff" stroke-width="1.8"/>
<text transform="translate(286.50,318.80) scale(0.78,1)" font-size="9.9" textLength="27.95" lengthAdjust="spacing" fill="#000" >Test 1</text>
<rect x="267.20" y="323.80" width="11.20" height="4.60" fill="none" stroke="#ff0000" stroke-width="1.8"/>
<text transform="translate(286.50,329.50) scale(0.78,1)" font-size="9.9" textLength="27.95" lengthAdjust="spacing" fill="#000" >Test 2</text>
<rect x="267.20" y="334.80" width="11.20" height="4.60" fill="none" stroke="#00bb00" stroke-width="1.8"/>
<text transform="translate(286.50,340.50) scale(0.78,1)" font-size="9.9" textLength="27.95" lengthAdjust="spacing" fill="#000" >Test 3</text>
<rect x="267.20" y="346.20" width="11.20" height="4.60" fill="none" stroke="#ffff00" stroke-width="1.8"/>
<text transform="translate(286.50,351.90) scale(0.78,1)" font-size="9.9" textLength="42.56" lengthAdjust="spacing" fill="#000" >Average</text>
<line x1="361.60" y1="433.10" x2="584.70" y2="433.10" stroke="#dcdcdc" stroke-width="1.2" />
<line x1="361.60" y1="395.60" x2="584.70" y2="395.60" stroke="#dcdcdc" stroke-width="1.2" />
<line x1="361.60" y1="358.10" x2="584.70" y2="358.10" stroke="#dcdcdc" stroke-width="1.2" />
<line x1="368.60" y1="320.60" x2="368.60" y2="470.60" stroke="#dcdcdc" stroke-width="1.2" />
<line x1="383.54" y1="320.60" x2="383.54" y2="470.60" stroke="#dcdcdc" stroke-width="1.2" />
<line x1="398.47" y1="320.60" x2="398.47" y2="470.60" stroke="#dcdcdc" stroke-width="1.2" />
<line x1="413.41" y1="320.60" x2="413.41" y2="470.60" stroke="#dcdcdc" stroke-width="1.2" />
<line x1="428.34" y1="320.60" x2="428.34" y2="470.60" stroke="#dcdcdc" stroke-width="1.2" />
<line x1="443.28" y1="320.60" x2="443.28" y2="470.60" stroke="#dcdcdc" stroke-width="1.2" />
<line x1="458.21" y1="320.60" x2="458.21" y2="470.60" stroke="#dcdcdc" stroke-width="1.2" />
<line x1="473.15" y1="320.60" x2="473.15" y2="470.60" stroke="#dcdcdc" stroke-width="1.2" />
<line x1="488.08" y1="320.60" x2="488.08" y2="470.60" stroke="#dcdcdc" stroke-width="1.2" />
<line x1="503.01" y1="320.60" x2="503.01" y2="470.60" stroke="#dcdcdc" stroke-width="1.2" />
<line x1="517.95" y1="320.60" x2="517.95" y2="470.60" stroke="#dcdcdc" stroke-width="1.2" />
<line x1="532.88" y1="320.60" x2="532.88" y2="470.60" stroke="#dcdcdc" stroke-width="1.2" />
<line x1="547.82" y1="320.60" x2="547.82" y2="470.60" stroke="#dcdcdc" stroke-width="1.2" />
<line x1="562.75" y1="320.60" x2="562.75" y2="470.60" stroke="#dcdcdc" stroke-width="1.2" />
<line x1="577.69" y1="320.60" x2="577.69" y2="470.60" stroke="#dcdcdc" stroke-width="1.2" />
<polyline points="373.40,355.29 388.34,354.91 403.27,357.54 418.21,361.48 433.14,372.35 448.08,374.98 463.01,377.79 477.95,386.04 492.88,391.85 507.81,399.91 522.75,407.41 537.68,413.41 552.62,415.29 567.55,414.16 582.49,416.23" fill="none" stroke="#ffff00" stroke-width="1.8" stroke-linejoin="round"/>
<polygon points="370.50,353.09 376.30,353.09 373.40,358.09" fill="#ffff00"/>
<polygon points="385.44,352.71 391.24,352.71 388.34,357.71" fill="#ffff00"/>
<polygon points="400.37,355.34 406.17,355.34 403.27,360.34" fill="#ffff00"/>
<polygon points="415.31,359.28 421.11,359.28 418.21,364.28" fill="#ffff00"/>
<polygon points="430.24,370.15 436.04,370.15 433.14,375.15" fill="#ffff00"/>
<polygon points="445.18,372.78 450.98,372.78 448.08,377.78" fill="#ffff00"/>
<polygon points="460.11,375.59 465.91,375.59 463.01,380.59" fill="#ffff00"/>
<polygon points="475.05,383.84 480.85,383.84 477.95,388.84" fill="#ffff00"/>
<polygon points="489.98,389.65 495.78,389.65 492.88,394.65" fill="#ffff00"/>
<polygon points="504.92,397.71 510.71,397.71 507.81,402.71" fill="#ffff00"/>
<polygon points="519.85,405.21 525.65,405.21 522.75,410.21" fill="#ffff00"/>
<polygon points="534.78,411.21 540.58,411.21 537.68,416.21" fill="#ffff00"/>
<polygon points="549.72,413.09 555.52,413.09 552.62,418.09" fill="#ffff00"/>
<polygon points="564.65,411.96 570.45,411.96 567.55,416.96" fill="#ffff00"/>
<polygon points="579.59,414.03 585.39,414.03 582.49,419.03" fill="#ffff00"/>
<polyline points="370.20,353.04 385.14,355.10 400.07,356.23 415.01,363.16 429.94,372.54 444.88,376.48 459.81,379.48 474.75,389.23 489.68,392.98 504.62,400.10 519.55,407.79 534.49,412.29 549.42,415.66 564.36,414.16 579.29,416.60" fill="none" stroke="#008000" stroke-width="1.5" stroke-linejoin="round"/>
<polygon points="370.20,350.44 372.70,355.04 367.70,355.04" fill="#008000"/>
<polygon points="385.14,352.50 387.64,357.10 382.64,357.10" fill="#008000"/>
<polygon points="400.07,353.62 402.57,358.23 397.57,358.23" fill="#008000"/>
<polygon points="415.01,360.56 417.51,365.16 412.51,365.16" fill="#008000"/>
<polygon points="429.94,369.94 432.44,374.54 427.44,374.54" fill="#008000"/>
<polygon points="444.88,373.88 447.38,378.48 442.38,378.48" fill="#008000"/>
<polygon points="459.81,376.88 462.31,381.48 457.31,381.48" fill="#008000"/>
<polygon points="474.75,386.62 477.25,391.23 472.25,391.23" fill="#008000"/>
<polygon points="489.68,390.38 492.18,394.98 487.18,394.98" fill="#008000"/>
<polygon points="504.62,397.50 507.12,402.10 502.12,402.10" fill="#008000"/>
<polygon points="519.55,405.19 522.05,409.79 517.05,409.79" fill="#008000"/>
<polygon points="534.49,409.69 536.99,414.29 531.99,414.29" fill="#008000"/>
<polygon points="549.42,413.06 551.92,417.66 546.92,417.66" fill="#008000"/>
<polygon points="564.36,411.56 566.86,416.16 561.86,416.16" fill="#008000"/>
<polygon points="579.29,414.00 581.79,418.60 576.79,418.60" fill="#008000"/>
<polyline points="367.00,357.16 381.94,354.54 396.87,357.16 411.81,360.54 426.74,373.10 441.68,373.10 456.61,377.60 471.55,383.79 486.48,389.98 501.41,398.60 516.35,407.79 531.28,413.41 546.22,414.91 561.15,413.79 576.09,416.98" fill="none" stroke="#ff0000" stroke-width="1.5" stroke-linejoin="round"/>
<rect x="365.00" y="355.16" width="4.0" height="4.0" fill="#ff0000"/>
<rect x="379.94" y="352.54" width="4.0" height="4.0" fill="#ff0000"/>
<rect x="394.87" y="355.16" width="4.0" height="4.0" fill="#ff0000"/>
<rect x="409.81" y="358.54" width="4.0" height="4.0" fill="#ff0000"/>
<rect x="424.74" y="371.10" width="4.0" height="4.0" fill="#ff0000"/>
<rect x="439.68" y="371.10" width="4.0" height="4.0" fill="#ff0000"/>
<rect x="454.61" y="375.60" width="4.0" height="4.0" fill="#ff0000"/>
<rect x="469.55" y="381.79" width="4.0" height="4.0" fill="#ff0000"/>
<rect x="484.48" y="387.98" width="4.0" height="4.0" fill="#ff0000"/>
<rect x="499.41" y="396.60" width="4.0" height="4.0" fill="#ff0000"/>
<rect x="514.35" y="405.79" width="4.0" height="4.0" fill="#ff0000"/>
<rect x="529.28" y="411.41" width="4.0" height="4.0" fill="#ff0000"/>
<rect x="544.22" y="412.91" width="4.0" height="4.0" fill="#ff0000"/>
<rect x="559.15" y="411.79" width="4.0" height="4.0" fill="#ff0000"/>
<rect x="574.09" y="414.98" width="4.0" height="4.0" fill="#ff0000"/>
<polyline points="363.80,355.29 378.74,354.35 393.67,357.91 408.61,360.35 423.54,371.04 438.48,374.60 453.41,377.23 468.35,385.48 483.28,393.54 498.21,400.10 513.15,405.91 528.09,413.98 543.02,415.29 557.96,414.91 572.89,415.29" fill="none" stroke="#0000d0" stroke-width="1.3" stroke-linejoin="round"/>
<circle cx="363.80" cy="355.29" r="1.95" fill="#0000d0"/>
<circle cx="378.74" cy="354.35" r="1.95" fill="#0000d0"/>
<circle cx="393.67" cy="357.91" r="1.95" fill="#0000d0"/>
<circle cx="408.61" cy="360.35" r="1.95" fill="#0000d0"/>
<circle cx="423.54" cy="371.04" r="1.95" fill="#0000d0"/>
<circle cx="438.48" cy="374.60" r="1.95" fill="#0000d0"/>
<circle cx="453.41" cy="377.23" r="1.95" fill="#0000d0"/>
<circle cx="468.35" cy="385.48" r="1.95" fill="#0000d0"/>
<circle cx="483.28" cy="393.54" r="1.95" fill="#0000d0"/>
<circle cx="498.21" cy="400.10" r="1.95" fill="#0000d0"/>
<circle cx="513.15" cy="405.91" r="1.95" fill="#0000d0"/>
<circle cx="528.09" cy="413.98" r="1.95" fill="#0000d0"/>
<circle cx="543.02" cy="415.29" r="1.95" fill="#0000d0"/>
<circle cx="557.96" cy="414.91" r="1.95" fill="#0000d0"/>
<circle cx="572.89" cy="415.29" r="1.95" fill="#0000d0"/>
<line x1="355.40" y1="320.60" x2="585.70" y2="320.60" stroke="#000" stroke-width="2" />
<line x1="355.40" y1="470.60" x2="585.70" y2="470.60" stroke="#000" stroke-width="2" />
<line x1="361.60" y1="319.60" x2="361.60" y2="471.60" stroke="#000" stroke-width="2" />
<line x1="584.70" y1="319.60" x2="584.70" y2="471.60" stroke="#000" stroke-width="2" />
<line x1="355.40" y1="470.60" x2="361.60" y2="470.60" stroke="#000" stroke-width="2" />
<text x="354.40" y="475.10" font-size="10.6" text-anchor="end" fill="#000" transform-origin="354.4 0" transform="scale(0.85,1)" style="stroke-width:0.05px">0</text>
<line x1="355.40" y1="433.10" x2="361.60" y2="433.10" stroke="#000" stroke-width="2" />
<text x="354.40" y="437.60" font-size="10.6" text-anchor="end" fill="#000" transform-origin="354.4 0" transform="scale(0.85,1)" style="stroke-width:0.05px">2</text>
<line x1="355.40" y1="395.60" x2="361.60" y2="395.60" stroke="#000" stroke-width="2" />
<text x="354.40" y="400.10" font-size="10.6" text-anchor="end" fill="#000" transform-origin="354.4 0" transform="scale(0.85,1)" style="stroke-width:0.05px">4</text>
<line x1="355.40" y1="358.10" x2="361.60" y2="358.10" stroke="#000" stroke-width="2" />
<text x="354.40" y="362.60" font-size="10.6" text-anchor="end" fill="#000" transform-origin="354.4 0" transform="scale(0.85,1)" style="stroke-width:0.05px">6</text>
<line x1="355.40" y1="320.60" x2="361.60" y2="320.60" stroke="#000" stroke-width="2" />
<text x="354.40" y="325.10" font-size="10.6" text-anchor="end" fill="#000" transform-origin="354.4 0" transform="scale(0.85,1)" style="stroke-width:0.05px">8</text>
<line x1="584.70" y1="470.60" x2="587.80" y2="470.60" stroke="#000" stroke-width="2" />
<text transform="translate(590.60,473.90) scale(0.78,1)" font-size="10.6" textLength="5.26" lengthAdjust="spacing" fill="#000"  style="stroke-width:0.05px">0</text>
<line x1="584.70" y1="420.60" x2="587.80" y2="420.60" stroke="#000" stroke-width="2" />
<text transform="translate(590.60,423.90) scale(0.78,1)" font-size="10.6" textLength="5.26" lengthAdjust="spacing" fill="#000"  style="stroke-width:0.05px">5</text>
<line x1="584.70" y1="370.60" x2="587.80" y2="370.60" stroke="#000" stroke-width="2" />
<text transform="translate(590.60,373.90) scale(0.78,1)" font-size="10.6" textLength="10.90" lengthAdjust="spacing" fill="#000"  style="stroke-width:0.05px">10</text>
<line x1="584.70" y1="320.60" x2="587.80" y2="320.60" stroke="#000" stroke-width="2" />
<text transform="translate(590.60,323.90) scale(0.78,1)" font-size="10.6" textLength="10.90" lengthAdjust="spacing" fill="#000"  style="stroke-width:0.05px">15</text>
<line x1="368.60" y1="470.60" x2="368.60" y2="475.20" stroke="#000" stroke-width="2" />
<text x="368.60" y="486.60" font-size="9.5" text-anchor="middle" fill="#000" transform-origin="368.60 0" transform="scale(0.88,1)" style="stroke-width:0.05px">0</text>
<line x1="383.54" y1="470.60" x2="383.54" y2="475.20" stroke="#000" stroke-width="2" />
<text x="383.54" y="486.60" font-size="9.5" text-anchor="middle" fill="#000" transform-origin="383.54 0" transform="scale(0.88,1)" style="stroke-width:0.05px">2</text>
<line x1="398.47" y1="470.60" x2="398.47" y2="475.20" stroke="#000" stroke-width="2" />
<text x="398.47" y="486.60" font-size="9.5" text-anchor="middle" fill="#000" transform-origin="398.47 0" transform="scale(0.88,1)" style="stroke-width:0.05px">4</text>
<line x1="413.41" y1="470.60" x2="413.41" y2="475.20" stroke="#000" stroke-width="2" />
<text x="413.41" y="486.60" font-size="9.5" text-anchor="middle" fill="#000" transform-origin="413.41 0" transform="scale(0.88,1)" style="stroke-width:0.05px">6</text>
<line x1="428.34" y1="470.60" x2="428.34" y2="475.20" stroke="#000" stroke-width="2" />
<text x="428.34" y="486.60" font-size="9.5" text-anchor="middle" fill="#000" transform-origin="428.34 0" transform="scale(0.88,1)" style="stroke-width:0.05px">8</text>
<line x1="443.28" y1="470.60" x2="443.28" y2="475.20" stroke="#000" stroke-width="2" />
<text x="443.28" y="486.60" font-size="9.5" text-anchor="middle" fill="#000" transform-origin="443.28 0" transform="scale(0.88,1)" style="stroke-width:0.05px">10</text>
<line x1="458.21" y1="470.60" x2="458.21" y2="475.20" stroke="#000" stroke-width="2" />
<text x="458.21" y="486.60" font-size="9.5" text-anchor="middle" fill="#000" transform-origin="458.21 0" transform="scale(0.88,1)" style="stroke-width:0.05px">12</text>
<line x1="473.15" y1="470.60" x2="473.15" y2="475.20" stroke="#000" stroke-width="2" />
<text x="473.15" y="486.60" font-size="9.5" text-anchor="middle" fill="#000" transform-origin="473.15 0" transform="scale(0.88,1)" style="stroke-width:0.05px">14</text>
<line x1="488.08" y1="470.60" x2="488.08" y2="475.20" stroke="#000" stroke-width="2" />
<text x="488.08" y="486.60" font-size="9.5" text-anchor="middle" fill="#000" transform-origin="488.08 0" transform="scale(0.88,1)" style="stroke-width:0.05px">16</text>
<line x1="503.01" y1="470.60" x2="503.01" y2="475.20" stroke="#000" stroke-width="2" />
<text x="503.01" y="486.60" font-size="9.5" text-anchor="middle" fill="#000" transform-origin="503.01 0" transform="scale(0.88,1)" style="stroke-width:0.05px">18</text>
<line x1="517.95" y1="470.60" x2="517.95" y2="475.20" stroke="#000" stroke-width="2" />
<text x="517.95" y="486.60" font-size="9.5" text-anchor="middle" fill="#000" transform-origin="517.95 0" transform="scale(0.88,1)" style="stroke-width:0.05px">20</text>
<line x1="532.88" y1="470.60" x2="532.88" y2="475.20" stroke="#000" stroke-width="2" />
<text x="532.88" y="486.60" font-size="9.5" text-anchor="middle" fill="#000" transform-origin="532.88 0" transform="scale(0.88,1)" style="stroke-width:0.05px">22</text>
<line x1="547.82" y1="470.60" x2="547.82" y2="475.20" stroke="#000" stroke-width="2" />
<text x="547.82" y="486.60" font-size="9.5" text-anchor="middle" fill="#000" transform-origin="547.82 0" transform="scale(0.88,1)" style="stroke-width:0.05px">24</text>
<line x1="562.75" y1="470.60" x2="562.75" y2="475.20" stroke="#000" stroke-width="2" />
<text x="562.75" y="486.60" font-size="9.5" text-anchor="middle" fill="#000" transform-origin="562.75 0" transform="scale(0.88,1)" style="stroke-width:0.05px">48</text>
<line x1="577.69" y1="470.60" x2="577.69" y2="475.20" stroke="#000" stroke-width="2" />
<text x="577.69" y="486.60" font-size="9.5" text-anchor="middle" fill="#000" transform-origin="577.69 0" transform="scale(0.88,1)" style="stroke-width:0.05px">72</text>
<text transform="translate(447.60,504.40) scale(0.78,1)" font-size="9.8" textLength="65.90" lengthAdjust="spacing" fill="#000" >Time (hours)</text>
<text x="361.40" y="302.20" font-size="19" textLength="9.60" lengthAdjust="spacingAndGlyphs" fill="#000" >d</text>
<text transform="translate(385.70,294.10) scale(0.8,1)" font-size="10" textLength="176.62" lengthAdjust="spacing" fill="#000" >Alkylamide changes in pepper meal</text>
<text transform="translate(345.40,394.80) rotate(-90)" font-size="9.6" text-anchor="middle" textLength="78.60" lengthAdjust="spacingAndGlyphs" fill="#000">Alkylamide Values</text>
<text transform="translate(605.90,395.30) rotate(90)" font-size="9.8" text-anchor="middle" textLength="62.00" lengthAdjust="spacingAndGlyphs" fill="#000">No. of samples</text>
<line x1="611.90" y1="310.70" x2="623.90" y2="310.70" stroke="#0000d0" stroke-width="1.7" />
<circle cx="617.90" cy="310.70" r="2.0" fill="#0000d0"/>
<text transform="translate(630.60,314.10) scale(0.78,1)" font-size="9.8" textLength="27.44" lengthAdjust="spacing" fill="#000" >Test 1</text>
<line x1="612.20" y1="321.50" x2="624.20" y2="321.50" stroke="#ff0000" stroke-width="1.7" />
<rect x="616.30" y="319.60" width="3.8" height="3.8" fill="#ff0000"/>
<text transform="translate(630.60,324.90) scale(0.78,1)" font-size="9.8" textLength="27.44" lengthAdjust="spacing" fill="#000" >Test 2</text>
<line x1="612.80" y1="332.50" x2="624.80" y2="332.50" stroke="#008000" stroke-width="1.7" />
<polygon points="618.80,329.70 621.60,334.50 616.00,334.50" fill="#008000"/>
<text transform="translate(631.30,335.90) scale(0.78,1)" font-size="9.8" textLength="27.44" lengthAdjust="spacing" fill="#000" >Test 3</text>
<line x1="613.00" y1="341.70" x2="625.00" y2="341.70" stroke="#ffff00" stroke-width="1.7" />
<polygon points="616.10,339.70 621.90,339.70 619.00,344.50" fill="#ffff00"/>
<text transform="translate(631.30,345.10) scale(0.78,1)" font-size="9.8" textLength="40.38" lengthAdjust="spacing" fill="#000" >Average</text>
</svg>
</body></html>
